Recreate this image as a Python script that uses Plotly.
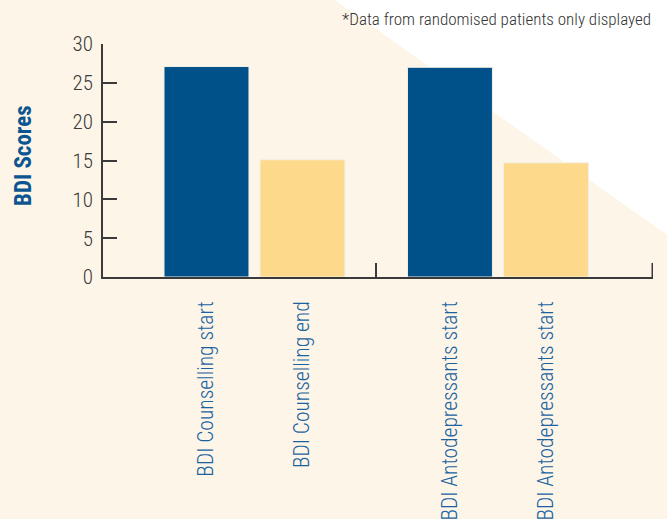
import plotly.graph_objects as go

# ---- data ----
labels = ["BDI Counselling start", "BDI Counselling end",
          "BDI Antodepressants start", "BDI Antodepressants start"]
values = [27.1, 15.1, 27.0, 14.7]
group_index = [0, 0, 1, 1]
slot_index = [0, 1, 0, 1]
y_ticks = [0, 5, 10, 15, 20, 25, 30]
note = "*Data from randomised patients only displayed"
y_title = "BDI Scores"

# ---- style ----
BLUE = "#00518a"
YELLOW = "#fdd98c"
CREAM = "#fdf6e8"
AXIS = "#3a3a3a"
LABEL_BLUE = "#1b62a0"
FONT = "Roboto Condensed, Liberation Sans Narrow, Arial Narrow, sans-serif"
bar_colors = [BLUE if s == 0 else YELLOW for s in slot_index]

GROUP_PITCH = 2.536
BAR_W = 0.885
xpos = [g * GROUP_PITCH + (s - 0.5) for g, s in zip(group_index, slot_index)]
x_range = [-1.578, 4.151]
separators = [(xpos[1] + xpos[2]) / 2]

W, H = 667, 519
L, R, T, B = 103, 14, 44, 242
pw, ph = W - L - R, H - T - B
TICKLEN = 14

def px(x):
    return (x - L) / pw

def py(y):
    return (H - B - y) / ph

fig = go.Figure()
fig.add_trace(go.Bar(
    x=xpos, y=values, width=BAR_W,
    marker=dict(color=bar_colors, line=dict(color="#f3efe6", width=1)),
    showlegend=False, hoverinfo="y",
))
fig.add_trace(go.Scatter(x=separators, y=[0], xaxis="x2", mode="markers",
                         marker=dict(opacity=0), showlegend=False, hoverinfo="skip"))

fig.update_layout(
    width=W, height=H,
    margin=dict(l=L, r=R, t=T, b=B, pad=0, autoexpand=False),
    paper_bgcolor=CREAM,
    plot_bgcolor="rgba(0,0,0,0)",
    font=dict(family=FONT, color=AXIS),
    xaxis=dict(
        range=x_range, tickvals=xpos, ticktext=labels, tickangle=-90,
        ticks="outside", ticklen=14, tickcolor="rgba(0,0,0,0)",
        tickfont=dict(family=FONT, size=21.5, color=LABEL_BLUE, weight=300),
        showline=True, linecolor=AXIS, linewidth=1.5, automargin=False,
        showgrid=False, zeroline=False, fixedrange=True,
    ),
    xaxis2=dict(
        overlaying="x", range=x_range, tickvals=separators,
        ticks="inside", ticklen=TICKLEN, tickwidth=1.5, tickcolor=AXIS,
        showticklabels=False, showline=False, showgrid=False, zeroline=False,
        side="bottom", anchor="y", automargin=False,
    ),
    yaxis=dict(
        range=[0, 30], tickvals=y_ticks,
        ticks="inside", ticklen=TICKLEN, tickwidth=1.5, tickcolor=AXIS,
        tickfont=dict(family=FONT, size=21, color=AXIS, weight=300),
        ticklabelstandoff=4, automargin=False,
        showline=True, linecolor=AXIS, linewidth=1.5,
        showgrid=False, zeroline=False, fixedrange=True,
    ),
    shapes=[
        dict(type="path", xref="paper", yref="paper", layer="below",
             path=f"M {px(335)} {py(0)} L {px(680)} {py(0)} L {px(680)} {py(244)} Z",
             fillcolor="#ffffff", line=dict(width=0)),
        # closing tick at the right end of the x axis
        dict(type="line", xref="paper", yref="paper",
             x0=1 - 0.75 / pw, x1=1 - 0.75 / pw, y0=0, y1=TICKLEN / ph,
             line=dict(color=AXIS, width=1.5)),
    ],
    annotations=[
        dict(text=note, xref="paper", yref="paper", x=px(653), y=py(19),
             xanchor="right", yanchor="middle", showarrow=False,
             font=dict(family=FONT, size=17, color="#333333", weight=300)),
        dict(text=f"<b>{y_title}</b>", xref="paper", yref="paper",
             x=px(23), y=py(156), xanchor="center", yanchor="middle",
             textangle=-90, showarrow=False,
             font=dict(family=FONT, size=23, color="#0d5591")),
    ],
)

fig.write_html("out.html", config={"displayModeBar": False})
